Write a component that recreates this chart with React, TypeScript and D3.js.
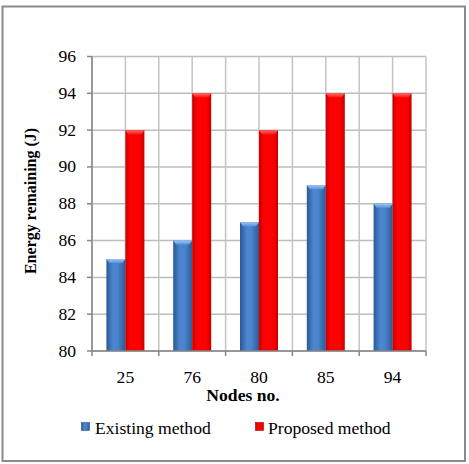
import React from "react";
import * as d3 from "d3";

const categories = ["25", "76", "80", "85", "94"];
const existing = [85, 86, 87, 89, 88];
const proposed = [92, 94, 92, 94, 94];
const yTicks = [80, 82, 84, 86, 88, 90, 92, 94, 96];
const seriesNames = ["Existing method", "Proposed method"];

const W = 469;
const H = 464;
const plot = { left: 92, right: 426, top: 56.5, bottom: 351 };
const FONT = "Liberation Serif, Tinos, Times New Roman, Nimbus Roman, DejaVu Serif, serif";
const SX = 1.1; // horizontal text stretch

export default function App() {
  const x0 = d3
    .scaleBand<string>()
    .domain(categories)
    .range([plot.left, plot.right])
    .paddingInner(0)
    .paddingOuter(0);
  const groupW = 38;
  const x1 = d3
    .scaleBand<string>()
    .domain(seriesNames)
    .range([0, groupW])
    .padding(0);
  const y = d3.scaleLinear().domain([80, 96]).range([plot.bottom, plot.top]);

  const bw = x0.bandwidth();
  const vGrid: number[] = [];
  categories.forEach((c) => {
    vGrid.push(x0(c)!);
    vGrid.push(x0(c)! + bw / 2);
  });
  vGrid.push(plot.right);

  const series = [
    { name: seriesNames[0], values: existing, fill: "url(#blueGrad)", cap: "url(#blueCap)" },
    { name: seriesNames[1], values: proposed, fill: "url(#redGrad)", cap: "url(#redCap)" },
  ];

  const stretched = (
    x: number,
    yy: number,
    text: string,
    opts: { anchor?: string; size?: number; weight?: string } = {}
  ) => (
    <text
      transform={`translate(${x},${yy}) scale(${SX},1)`}
      textAnchor={opts.anchor ?? "start"}
      fill="#000"
      style={{ fontFamily: FONT, fontSize: `${opts.size ?? 16}px`, fontWeight: opts.weight ?? "normal" }}
    >
      {text}
    </text>
  );

  return (
    <svg
      width={W}
      height={H}
      style={{ position: "absolute", left: 0, top: 0, background: "#fff" }}
    >
      <defs>
        <linearGradient id="blueGrad" x1="0" x2="1" y1="0" y2="0">
          <stop offset="0%" stopColor="#2a5894" />
          <stop offset="35%" stopColor="#4b86cf" />
          <stop offset="60%" stopColor="#4a84cc" />
          <stop offset="100%" stopColor="#2b5a97" />
        </linearGradient>
        <linearGradient id="blueCap" x1="0" x2="0" y1="0" y2="1">
          <stop offset="0%" stopColor="#9cc4f2" />
          <stop offset="100%" stopColor="#5a95dc" />
        </linearGradient>
        <linearGradient id="redGrad" x1="0" x2="1" y1="0" y2="0">
          <stop offset="0%" stopColor="#c80000" />
          <stop offset="25%" stopColor="#ff0000" />
          <stop offset="75%" stopColor="#ff0000" />
          <stop offset="100%" stopColor="#c40000" />
        </linearGradient>
        <linearGradient id="redCap" x1="0" x2="0" y1="0" y2="1">
          <stop offset="0%" stopColor="#ff6a6a" />
          <stop offset="100%" stopColor="#ff1a1a" />
        </linearGradient>
      </defs>

      {/* outer frame */}
      <rect x={2.5} y={6.5} width={462.5} height={454.5} fill="#fff" stroke="#8a8a8a" strokeWidth={2} />

      {/* horizontal grid */}
      {yTicks.map((t) => (
        <line key={"h" + t} x1={plot.left} x2={plot.right} y1={y(t)} y2={y(t)} stroke="#bdbdbd" strokeWidth={1.5} />
      ))}
      {/* vertical grid */}
      {vGrid.map((gx, i) => (
        <line key={"v" + i} x1={gx} x2={gx} y1={plot.top} y2={plot.bottom} stroke="#c4c4c4" strokeWidth={1.5} />
      ))}

      {/* bars */}
      {series.map((s) =>
        s.values.map((v, i) => {
          const bx = x0(categories[i])! + (bw - groupW) / 2 + x1(s.name)!;
          const w = x1.bandwidth();
          const top = y(v);
          const h = plot.bottom - top;
          const capH = 4;
          return (
            <g key={s.name + i}>
              <rect x={bx} y={top} width={w} height={h} fill={s.fill} />
              <path
                d={`M${bx},${top} L${bx + w},${top} L${bx + w - 3},${top + capH} L${bx + 3},${top + capH} Z`}
                fill={s.cap}
              />
            </g>
          );
        })
      )}

      {/* axes */}
      <line x1={plot.left} x2={plot.left} y1={plot.top} y2={plot.bottom} stroke="#868686" strokeWidth={1.5} />
      <line x1={plot.left} x2={plot.right} y1={plot.bottom} y2={plot.bottom} stroke="#868686" strokeWidth={1.5} />
      {yTicks.map((t) => (
        <line key={"yt" + t} x1={plot.left - 5} x2={plot.left} y1={y(t)} y2={y(t)} stroke="#868686" strokeWidth={1.5} />
      ))}
      {[...categories.map((c) => x0(c)!), plot.right].map((tx, i) => (
        <line key={"xt" + i} x1={tx} x2={tx} y1={plot.bottom} y2={plot.bottom + 5} stroke="#868686" strokeWidth={1.5} />
      ))}

      {/* y tick labels */}
      {yTicks.map((t) => (
        <g key={"yl" + t}>{stretched(76, y(t) + 5.5, String(t), { anchor: "end" })}</g>
      ))}
      {/* x tick labels */}
      {categories.map((c) => (
        <g key={"xl" + c}>{stretched(x0(c)! + bw / 2, 383, c, { anchor: "middle" })}</g>
      ))}

      {/* axis titles */}
      {stretched(243, 401, "Nodes no.", { anchor: "middle", weight: "bold" })}
      <text
        transform={`translate(36,201) rotate(-90) scale(1,${SX})`}
        textAnchor="middle"
        fill="#000"
        style={{ fontFamily: FONT, fontSize: "16px", fontWeight: "bold" }}
      >
        Energy remaining (J)
      </text>

      {/* legend */}
      <rect x={81.5} y={422.5} width={8} height={8} fill="url(#blueGrad)" stroke="#2a5894" strokeWidth={0.6} />
      {stretched(95, 434, seriesNames[0])}
      <rect x={255.5} y={422.5} width={8} height={8} fill="url(#redGrad)" stroke="#b00000" strokeWidth={0.6} />
      {stretched(268, 434, seriesNames[1])}
    </svg>
  );
}
